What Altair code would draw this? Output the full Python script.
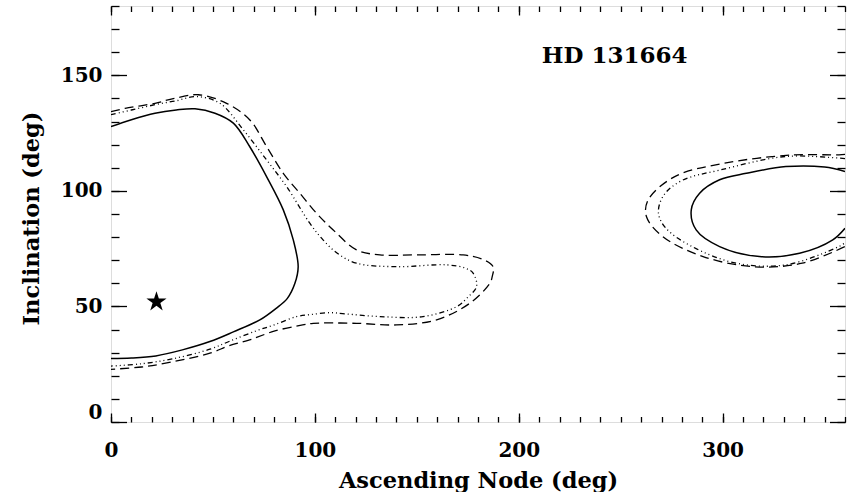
import altair as alt
import pandas as pd

# ---------------- data ----------------
solid_left_x = [0, 10, 21.6, 32, 41.2, 51, 60, 68, 76.3, 84.5, 89.4, 91.8, 90.2, 86.5, 81, 73, 60, 48.5, 35, 22, 10, 0]
solid_left_y = [127.8, 130.8, 133.6, 135, 135.5, 133.6, 129.3, 119.2, 106.2, 91.8, 78.8, 67.2, 60, 53.5, 49.2, 44.2, 39, 34.8, 31.2, 28.6, 27.7, 27.5]

dotted_left_x = [0, 10, 21.6, 32, 42, 53.4, 64.9, 76.3, 86.1, 97.5, 104, 111, 120.4, 140, 164.6, 174, 177.6, 179.3, 175, 169.5, 153, 131.9, 115, 107.4, 98, 91, 80, 71.4, 58.3, 48.5, 30, 15, 0]
dotted_left_y = [133, 135, 137.3, 139, 140.8, 137.9, 126.4, 113.4, 101.9, 86, 78.8, 73, 68.7, 67.2, 68, 66.5, 64.4, 58.6, 54, 49.9, 45.6, 45.6, 46.8, 47.3, 46.5, 45.6, 42, 39.5, 35, 31.5, 27.3, 25.2, 24.2]

dashed_left_x = [0, 6.9, 21.6, 30, 42.8, 56.7, 68.1, 76.3, 84.5, 92.6, 100.8, 109, 120.4, 131.9, 150, 172.7, 182, 187.4, 187, 185.8, 176, 159.7, 140, 120.4, 99.2, 94, 80, 68, 58, 48.5, 30, 15, 0]
dashed_left_y = [134.3, 135.7, 137.9, 139.8, 141.6, 137.9, 130.7, 119.2, 107.6, 99, 90.3, 83.1, 74.5, 72.3, 72.3, 72.3, 70.5, 67.2, 63, 60, 51.4, 44.2, 42, 42.7, 42.7, 42, 39.3, 35.5, 33, 29.8, 26, 23.8, 22.8]

solid_right_x = [360, 350, 331, 311.6, 298.5, 288.7, 284.6, 287, 298.5, 318, 337.7, 354, 360]
solid_right_y = [108.4, 110.3, 110.5, 107.6, 104.8, 99, 91.8, 83.1, 75.9, 71.6, 73, 78.8, 83.8]

dotted_right_x = [360, 357, 331, 298.5, 280, 271, 268.5, 272, 285, 306.7, 331, 357, 360]
dotted_right_y = [114, 114.2, 114.9, 109, 104.5, 98, 90.5, 84, 75.9, 68.7, 68, 75.9, 77.5]

dashed_right_x = [360, 357, 333.7, 301, 276.5, 263.4, 262.6, 270.7, 290.4, 315, 339, 360]
dashed_right_y = [115.8, 115.6, 115.5, 112, 106.2, 96, 88.9, 80.2, 71.6, 67.2, 68.7, 75.9]

star_x = [22.3]
star_y = [52]

label_text = ["HD 131664"]
label_x = [247]
label_y = [155.2]

x_major = [0, 100, 200, 300]
x_minor = [0, 10, 20, 30, 40, 50, 60, 70, 80, 90, 100, 110, 120, 130, 140, 150, 160, 170, 180,
           190, 200, 210, 220, 230, 240, 250, 260, 270, 280, 290, 300, 310, 320, 330, 340, 350, 360]
y_major = [0, 50, 100, 150]
y_minor = [0, 10, 20, 30, 40, 50, 60, 70, 80, 90, 100, 110, 120, 130, 140, 150, 160, 170, 180]

# ---------------- tables ----------------
rows = []
def add(name, style, xs, ys):
    for i, (xv, yv) in enumerate(zip(xs, ys)):
        rows.append({"contour": name, "style": style, "x": xv, "y": yv, "order": i})

add("sl", "solid", solid_left_x, solid_left_y)
add("sr", "solid", solid_right_x, solid_right_y)
add("tl", "dotted", dotted_left_x, dotted_left_y)
add("tr", "dotted", dotted_right_x, dotted_right_y)
add("dl", "dashed", dashed_left_x, dashed_left_y)
add("dr", "dashed", dashed_right_x, dashed_right_y)
df = pd.DataFrame(rows)

star_df = pd.DataFrame({"x": star_x, "y": star_y})
text_df = pd.DataFrame({"x": label_x, "y": label_y, "t": label_text})

W, H = 734, 416
FONT = "DejaVu Serif"
xs = alt.Scale(domain=[0, 360], nice=False, zero=False)
ys = alt.Scale(domain=[0, 180], nice=False, zero=False)

def tick_axis(orient, offset, values, size):
    return alt.Axis(orient=orient, offset=offset, values=values, tickSize=size,
                    tickColor="black", tickWidth=1.3, labels=False, domain=False,
                    grid=False, title=None)

ax_x_main = alt.Axis(orient="bottom", values=x_major, ticks=False, domain=False, grid=False,
                     labelFont=FONT, labelFontSize=20, labelFontWeight="bold", labelColor="black",
                     labelPadding=18.5, labelFlush=False,
                     title="Ascending Node (deg)", titleFont=FONT, titleFontSize=22.5,
                     titleFontWeight="bold", titleColor="black", titleBaseline="alphabetic",
                     titleY=65, titleX=W / 2)
ax_y_main = alt.Axis(orient="left", values=y_major, ticks=False, domain=False, grid=False,
                     labelFont=FONT, labelFontSize=20, labelFontWeight="bold", labelColor="black",
                     labelPadding=9, labelFlush=True,
                     title="Inclination (deg)", titleFont=FONT, titleFontSize=22.5,
                     titleFontWeight="bold", titleColor="black", titleBaseline="alphabetic",
                     titleAngle=270, titleX=-73, titleY=H / 2 + 4)

solid = alt.Chart(df).transform_filter("datum.style == 'solid'").mark_line(
    color="black", strokeWidth=1.5, clip=True, interpolate="catmull-rom"
).encode(
    x=alt.X("x:Q", scale=xs, axis=ax_x_main),
    y=alt.Y("y:Q", scale=ys, axis=ax_y_main),
    detail="contour:N",
    order="order:Q",
)

dotted = alt.Chart(df).transform_filter("datum.style == 'dotted'").mark_line(
    color="black", strokeWidth=1.3, strokeDash=[5, 3, 1, 3, 1, 3, 1, 3], clip=True,
    interpolate="catmull-rom"
).encode(
    x=alt.X("x:Q", scale=xs, axis=tick_axis("top", -H, x_major, 9)),
    y=alt.Y("y:Q", scale=ys, axis=tick_axis("right", -W, y_major, 15.5)),
    detail="contour:N",
    order="order:Q",
)

dashed = alt.Chart(df).transform_filter("datum.style == 'dashed'").mark_line(
    color="black", strokeWidth=1.3, strokeDash=[9, 5], clip=True, interpolate="catmull-rom"
).encode(
    x=alt.X("x:Q", scale=xs, axis=tick_axis("top", -H, x_minor, 5.5)),
    y=alt.Y("y:Q", scale=ys, axis=tick_axis("right", -W, y_minor, 8)),
    detail="contour:N",
    order="order:Q",
)

star_path = ("M0,-1 L0.2245,-0.309 L0.951,-0.309 L0.363,0.118 L0.588,0.809 "
             "L0,0.382 L-0.588,0.809 L-0.363,0.118 L-0.951,-0.309 L-0.2245,-0.309 Z")
star = alt.Chart(star_df).mark_point(
    shape=star_path, filled=True, color="black", size=450, opacity=1, strokeWidth=0
).encode(
    x=alt.X("x:Q", scale=xs, axis=tick_axis("bottom", -H, x_major, 9)),
    y=alt.Y("y:Q", scale=ys, axis=tick_axis("left", -W, y_major, 15.5)),
)

label = alt.Chart(text_df).mark_text(
    font=FONT, fontSize=23, fontWeight="bold", color="black",
    align="center", baseline="alphabetic"
).encode(
    x=alt.X("x:Q", scale=xs, axis=tick_axis("bottom", -H, x_minor, 5.5)),
    y=alt.Y("y:Q", scale=ys, axis=tick_axis("left", -W, y_minor, 8)),
    text="t:N",
)

chart = alt.layer(solid, dotted, dashed, star, label).resolve_axis(
    x="independent", y="independent"
).properties(
    width=W, height=H,
    autosize=alt.AutoSizeParams(type="none"),
    padding={"left": 111, "top": 6, "right": 5, "bottom": 70},
).configure_view(
    stroke="black", strokeWidth=1.6
).configure(background="white")

chart.save("out.html", embed_options={"renderer": "svg", "actions": False})
